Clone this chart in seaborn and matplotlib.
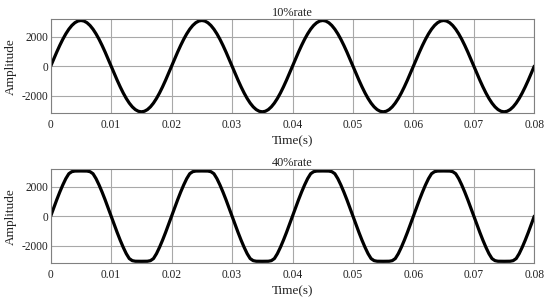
import numpy as np
import pandas as pd
import matplotlib
matplotlib.use("Agg")
import matplotlib.pyplot as plt
import seaborn as sns

# Time samples (s)
time = [round(i * 0.0005, 4) for i in range(161)]

# 10% rate signal
rate10 = [
    0, 485, 958, 1407, 1822, 2192, 2508, 2762, 2948, 3062, 3100, 3062, 2948, 2762, 2508, 2192, 1822, 1407, 958, 485,
    0, -485, -958, -1407, -1822, -2192, -2508, -2762, -2948, -3062, -3100, -3062, -2948, -2762, -2508, -2192, -1822, -1407, -958, -485,
    0, 485, 958, 1407, 1822, 2192, 2508, 2762, 2948, 3062, 3100, 3062, 2948, 2762, 2508, 2192, 1822, 1407, 958, 485,
    0, -485, -958, -1407, -1822, -2192, -2508, -2762, -2948, -3062, -3100, -3062, -2948, -2762, -2508, -2192, -1822, -1407, -958, -485,
    0, 485, 958, 1407, 1822, 2192, 2508, 2762, 2948, 3062, 3100, 3062, 2948, 2762, 2508, 2192, 1822, 1407, 958, 485,
    0, -485, -958, -1407, -1822, -2192, -2508, -2762, -2948, -3062, -3100, -3062, -2948, -2762, -2508, -2192, -1822, -1407, -958, -485,
    0, 485, 958, 1407, 1822, 2192, 2508, 2762, 2948, 3062, 3100, 3062, 2948, 2762, 2508, 2192, 1822, 1407, 958, 485,
    0, -485, -958, -1407, -1822, -2192, -2508, -2762, -2948, -3062, -3100, -3062, -2948, -2762, -2508, -2192, -1822, -1407, -958, -485,
    0,
]

# 40% rate signal (flattened peaks)
rate40 = [
    0, 563, 1112, 1634, 2116, 2546, 2880, 3020, 3060, 3065, 3065, 3065, 3060, 3020, 2880, 2546, 2116, 1634, 1112, 563,
    0, -563, -1112, -1634, -2116, -2546, -2880, -3020, -3060, -3065, -3065, -3065, -3060, -3020, -2880, -2546, -2116, -1634, -1112, -563,
    0, 563, 1112, 1634, 2116, 2546, 2880, 3020, 3060, 3065, 3065, 3065, 3060, 3020, 2880, 2546, 2116, 1634, 1112, 563,
    0, -563, -1112, -1634, -2116, -2546, -2880, -3020, -3060, -3065, -3065, -3065, -3060, -3020, -2880, -2546, -2116, -1634, -1112, -563,
    0, 563, 1112, 1634, 2116, 2546, 2880, 3020, 3060, 3065, 3065, 3065, 3060, 3020, 2880, 2546, 2116, 1634, 1112, 563,
    0, -563, -1112, -1634, -2116, -2546, -2880, -3020, -3060, -3065, -3065, -3065, -3060, -3020, -2880, -2546, -2116, -1634, -1112, -563,
    0, 563, 1112, 1634, 2116, 2546, 2880, 3020, 3060, 3065, 3065, 3065, 3060, 3020, 2880, 2546, 2116, 1634, 1112, 563,
    0, -563, -1112, -1634, -2116, -2546, -2880, -3020, -3060, -3065, -3065, -3065, -3060, -3020, -2880, -2546, -2116, -1634, -1112, -563,
    0,
]

titles = ["10%rate", "40%rate"]
xticks = [0, 0.01, 0.02, 0.03, 0.04, 0.05, 0.06, 0.07, 0.08]
xticklabels = ["0", "0.01", "0.02", "0.03", "0.04", "0.05", "0.06", "0.07", "0.08"]
yticks = [-2000, 0, 2000]
yticklabels = ["-2000", "0", "2000"]

sns.set_style("white")
plt.rcParams["font.family"] = ["Liberation Serif", "DejaVu Serif"]

W, H = 550, 302
fig = plt.figure(figsize=(W / 100, H / 100), dpi=100)

positions = [
    (50.7, 19.0, 534.3, 113.3),
    (50.7, 169.0, 534.3, 263.3),
]

for (l, t, r, b), title, vals in zip(positions, titles, [rate10, rate40]):
    ax = fig.add_axes([l / W, 1 - b / H, (r - l) / W, (b - t) / H])
    df = pd.DataFrame({"t": time, "v": vals})
    sns.lineplot(data=df, x="t", y="v", ax=ax, color="black", linewidth=2.3,
                 solid_joinstyle="round", solid_capstyle="round")
    ax.set_xlim(0, 0.08)
    ax.set_ylim(-3200, 3200)
    ax.set_xticks(xticks)
    ax.set_xticklabels(xticklabels)
    ax.set_yticks(yticks)
    ax.set_yticklabels(yticklabels)
    ax.grid(True, color="#a8a8a8", linewidth=0.8)
    ax.set_axisbelow(True)
    for s in ax.spines.values():
        s.set_color("#808080")
        s.set_linewidth(0.8)
    ax.tick_params(axis="both", length=0, labelsize=8.3, colors="#222222")
    ax.tick_params(axis="y", pad=1.5)
    ax.tick_params(axis="x", pad=4)
    ax.set_title(title, fontsize=8.8, pad=2, color="#222222")
    ax.set_xlabel("Time(s)", fontsize=9.5, labelpad=3, color="#222222")
    ax.set_ylabel("Amplitude", fontsize=9.5, labelpad=3.5, color="#222222")

fig.savefig("out.png", dpi=100)
